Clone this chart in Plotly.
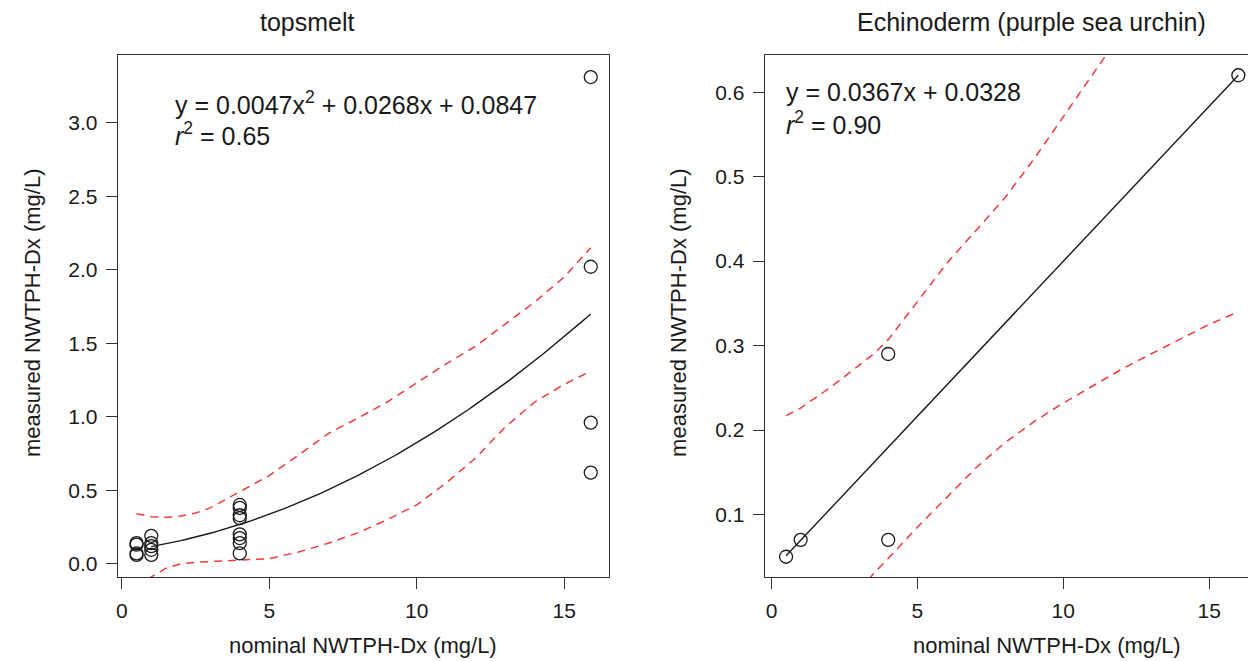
import numpy as np
import plotly.graph_objects as go

# ---------------- topsmelt ----------------
ts_nominal = [0.5, 0.5, 0.5, 0.5,
              1, 1, 1, 1, 1,
              4, 4, 4, 4, 4, 4, 4, 4,
              15.9, 15.9, 15.9, 15.9]
ts_measured = [0.06, 0.07, 0.13, 0.14,
               0.19, 0.14, 0.12, 0.095, 0.06,
               0.40, 0.38, 0.33, 0.31, 0.20, 0.175, 0.14, 0.07,
               3.31, 2.02, 0.96, 0.62]
ts_coef = (0.0047, 0.0268, 0.0847)      # quadratic fit: a x^2 + b x + c
ts_r2 = "0.65"

ts_ci_x = [0.5, 1, 1.5, 2, 2.5, 3, 4, 5, 6, 7, 8, 9, 10, 11, 12, 13, 14, 15, 15.9]
ts_ci_upper = [0.34, 0.32, 0.315, 0.325, 0.345, 0.38, 0.49, 0.60, 0.74, 0.885, 0.99,
               1.10, 1.23, 1.36, 1.48, 1.63, 1.78, 1.95, 2.15]
ts_ci_lower = [-0.16, -0.09, -0.03, 0.0, 0.01, 0.015, 0.02, 0.035, 0.08, 0.14, 0.21,
               0.30, 0.40, 0.55, 0.72, 0.93, 1.10, 1.22, 1.31]

# ---------------- purple sea urchin ----------------
su_nominal = [0.5, 1, 4, 4, 16]
su_measured = [0.05, 0.07, 0.29, 0.07, 0.62]
su_coef = (0.0367, 0.0328)               # linear fit: m x + b
su_r2 = "0.90"

su_ci_x = [0.5, 1, 2, 3, 3.5, 4, 5, 6, 7, 8, 9, 10, 11, 12, 13, 14, 15, 16]
su_ci_upper = [0.217, 0.226, 0.25, 0.277, 0.29, 0.307, 0.352, 0.397, 0.436, 0.475,
               0.521, 0.57, 0.62, 0.67, 0.72, 0.77, 0.82, 0.87]
su_ci_lower = [-0.09, -0.07, -0.03, 0.01, 0.03, 0.048, 0.085, 0.12, 0.155, 0.185,
               0.21, 0.232, 0.252, 0.272, 0.29, 0.308, 0.325, 0.34]

TITLES = ["topsmelt", "Echinoderm (purple sea urchin)"]
XLABEL = "nominal NWTPH-Dx (mg/L)"
YLABEL = "measured NWTPH-Dx (mg/L)"

W, H = 1248, 661
FONT = "Liberation Sans, Arial, sans-serif"
INK = "#1a1a1a"
RED = "#ee3b3b"


def px(x):
    return x / W


def py(y):
    return 1 - y / H


fig = go.Figure()

# fitted curves from the stated coefficients
a, b, c = ts_coef
ts_fx = np.linspace(1, 15.9, 120)
ts_fy = a * ts_fx ** 2 + b * ts_fx + c
m, k = su_coef
su_fx = np.linspace(0.5, 16, 60)
su_fy = m * su_fx + k

circle = dict(symbol="circle-open", size=13, color=INK, line=dict(width=1.3, color=INK))
dash = dict(color=RED, width=1.5, dash="8px,6px")

for (ax, ay, ci_x, up, lo, fx, fy, nx, ny) in [
    ("x", "y", ts_ci_x, ts_ci_upper, ts_ci_lower, ts_fx, ts_fy, ts_nominal, ts_measured),
    ("x2", "y2", su_ci_x, su_ci_upper, su_ci_lower, su_fx, su_fy, su_nominal, su_measured),
]:
    fig.add_trace(go.Scatter(x=ci_x, y=up, mode="lines", line=dash,
                             xaxis=ax, yaxis=ay, showlegend=False, hoverinfo="skip"))
    fig.add_trace(go.Scatter(x=ci_x, y=lo, mode="lines", line=dash,
                             xaxis=ax, yaxis=ay, showlegend=False, hoverinfo="skip"))
    fig.add_trace(go.Scatter(x=fx, y=fy, mode="lines", line=dict(color=INK, width=1.4),
                             xaxis=ax, yaxis=ay, showlegend=False, hoverinfo="skip"))
    fig.add_trace(go.Scatter(x=nx, y=ny, mode="markers", marker=circle,
                             xaxis=ax, yaxis=ay, showlegend=False, cliponaxis=False))

axis_common = dict(
    showgrid=False, zeroline=False, showline=True, linecolor="#333333", linewidth=1.4,
    ticks="outside", ticklen=11, tickwidth=1.4, tickcolor="#333333",
    tickfont=dict(family=FONT, size=21, color=INK), ticklabelstandoff=4,
)

plot_top, plot_bot = 55, 577
ydom = [py(plot_bot), py(plot_top)]

fig.update_layout(
    width=W, height=H, margin=dict(l=0, r=0, t=0, b=0),
    paper_bgcolor="white", plot_bgcolor="white",
    font=dict(family=FONT, color=INK),
    xaxis=dict(domain=[px(116), px(608)], range=[-0.135, 16.52], tickvals=[0, 5, 10, 15],
               mirror=True, anchor="y", **axis_common),
    yaxis=dict(domain=ydom, range=[-0.09, 3.46], tickvals=[0, 0.5, 1, 1.5, 2, 2.5, 3],
               tickformat=".1f", mirror=True, anchor="x", **axis_common),
    xaxis2=dict(domain=[px(764), 1.0], range=[-0.23, 16.33], tickvals=[0, 5, 10, 15],
                mirror=True, anchor="y2", **axis_common),
    yaxis2=dict(domain=ydom, range=[0.026, 0.644], tickvals=[0.1, 0.2, 0.3, 0.4, 0.5, 0.6],
                tickformat=".1f", mirror=False, anchor="x2", **axis_common),
)

ann = []
# panel titles
ann.append(dict(x=px(306), y=py(22), text=TITLES[0], font=dict(size=25)))
ann.append(dict(x=px(1031), y=py(22), text=TITLES[1], font=dict(size=25)))
# axis titles
ann.append(dict(x=px(362), y=py(645), text=XLABEL, font=dict(size=22)))
ann.append(dict(x=px(1047), y=py(645), text=XLABEL, font=dict(size=22)))
ann.append(dict(x=px(30), y=py(313), text=YLABEL, font=dict(size=22), textangle=-90))
ann.append(dict(x=px(677), y=py(313), text=YLABEL, font=dict(size=22), textangle=-90))
# regression equations
ann.append(dict(x=px(171), y=py(103), xanchor="left",
                text=f"y = {ts_coef[0]}x<sup>2</sup> + {ts_coef[1]}x + {ts_coef[2]}",
                font=dict(size=25)))
ann.append(dict(x=px(171), y=py(134), xanchor="left",
                text=f"<i>r</i><sup>2</sup> = {ts_r2}", font=dict(size=25)))
ann.append(dict(x=px(783), y=py(92), xanchor="left",
                text=f"y = {su_coef[0]}x + {su_coef[1]}", font=dict(size=25)))
ann.append(dict(x=px(783), y=py(123), xanchor="left",
                text=f"<i>r</i><sup>2</sup> = {su_r2}", font=dict(size=25)))

for d in ann:
    d.setdefault("xanchor", "center")
    d.update(xref="paper", yref="paper", yanchor="middle", showarrow=False)
    d["font"] = dict(family=FONT, color=INK, **d["font"])
fig.update_layout(annotations=ann)

fig.write_html("out.html")
